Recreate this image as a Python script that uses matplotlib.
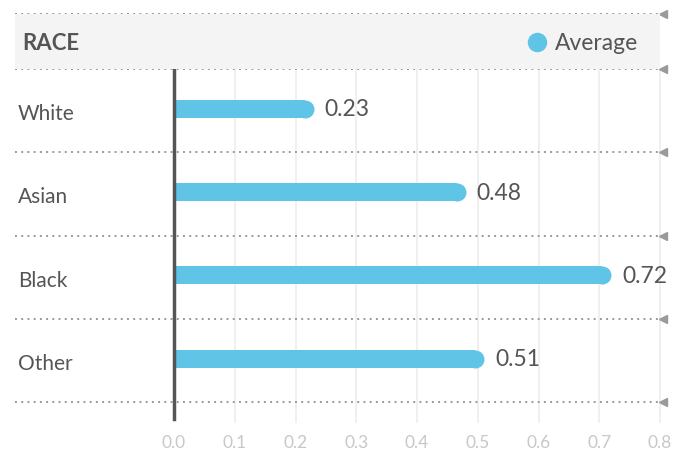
import matplotlib
matplotlib.use("Agg")
import matplotlib.pyplot as plt
from matplotlib.patches import Rectangle
from matplotlib.transforms import blended_transform_factory

# data
categories = ["White", "Asian", "Black", "Other"]
values = [0.23, 0.48, 0.72, 0.51]
xticks = [0.0, 0.1, 0.2, 0.3, 0.4, 0.5, 0.6, 0.7, 0.8]
title = "RACE"
series_name = "Average"

bar_color = "#5fc4e6"
text_color = "#555555"
dot_color = "#9a9a9a"

plt.rcParams['font.family'] = ['Lato', 'DejaVu Sans']

W, H = 673, 452
fig = plt.figure(figsize=(W / 100, H / 100), dpi=100)

# plot area in pixels
left_px, right_px, top_px, bot_px = 174, 660, 70, 420
ax = fig.add_axes([left_px / W, 1 - bot_px / H, (right_px - left_px) / W, (bot_px - top_px) / H])
row_px = 83.25
ax.set_xlim(0, 0.8)
ax.set_ylim((bot_px - top_px) / row_px, 0)

for s in ax.spines.values():
    s.set_visible(False)

# header band
fig.patches.append(Rectangle((15 / W, 1 - 70 / H), (660 - 15) / W, 55 / H,
                             transform=fig.transFigure, facecolor="#f4f4f4",
                             edgecolor="none", zorder=0))
fig.text(22 / W, 1 - 44 / H, title, fontsize=16, fontweight="bold",
         color=text_color, va="center", ha="left")
fig.lines.append(plt.Line2D([537 / W], [1 - 43 / H], marker="o", markersize=13,
                            color=bar_color, transform=fig.transFigure))
fig.text(555 / W, 1 - 44 / H, series_name, fontsize=16.5, color=text_color,
         va="center", ha="left")

# vertical grid
ax.set_xticks(xticks)
ax.set_xticklabels(["%.1f" % t for t in xticks])
ax.tick_params(axis="x", length=0, pad=11, labelsize=12.5, labelcolor="#c8c8c8")
ax.set_yticks([])
for t in xticks[1:]:
    ax.plot([t, t], [0, ax.get_ylim()[0] + 3 / row_px], color="#efefef", lw=1.3,
            zorder=1, clip_on=False)
ax.plot([0, 0], [-2 / row_px, ax.get_ylim()[0]], color="#555555", lw=2.5,
        zorder=5, clip_on=False)

# dotted row separators
trans = blended_transform_factory(ax.transAxes, ax.transData)
x0 = (15 - left_px) / (right_px - left_px)
seps = [-(top_px - 15) / row_px] + list(range(len(categories) + 1))
for y in seps:
    ax.plot([x0, 1.0], [y, y], transform=trans, color=dot_color, lw=1.4,
            linestyle=(0, (1, 2.2)), clip_on=False, zorder=2)
    ax.plot([1.0 + 3 / (right_px - left_px)], [y], transform=trans, marker="<",
            markersize=6, color=dot_color, clip_on=False, zorder=2)

# bars with rounded end
bar_h = 18 / row_px
r = 9 / (right_px - left_px) * 0.8
ypos = [i + 0.48 for i in range(len(categories))]
ax.barh(ypos, [v - r for v in values], height=bar_h, color=bar_color, zorder=3)
ax.scatter([v - r for v in values], ypos, s=(18 * 0.72) ** 2, color=bar_color,
           zorder=3, linewidths=0)
for y, v in zip(ypos, values):
    ax.annotate("%.2f" % v, (v, y), xytext=(8, 0), textcoords="offset points",
                va="center", ha="left", fontsize=16.5, color=text_color)

for y, c in zip(ypos, categories):
    ax.text(x0 + 3 / (right_px - left_px), y + 0.05, c, transform=trans,
            va="center", ha="left", fontsize=15, color=text_color)

fig.savefig("out.png", dpi=100)
